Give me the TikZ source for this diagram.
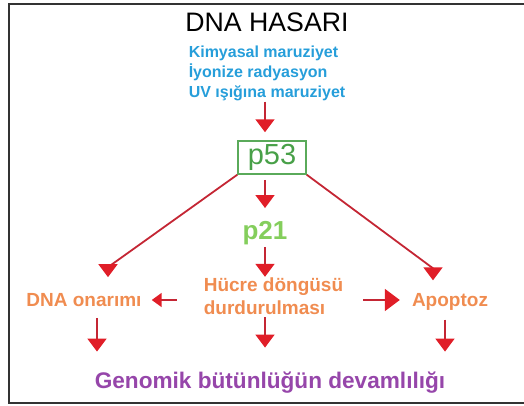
\documentclass[tikz,border=0pt]{standalone}
\usepackage{fontspec}
\setmainfont{Liberation Sans}
\usetikzlibrary{positioning}
\usetikzlibrary{arrows.meta}
\definecolor{okrenk}{RGB}{196,38,52}
\definecolor{ucrenk}{RGB}{224,30,40}
\definecolor{mavi}{RGB}{38,158,218}
\definecolor{yesil}{RGB}{72,160,72}
\definecolor{acikyesil}{RGB}{132,206,92}
\definecolor{turuncu}{RGB}{240,140,80}
\definecolor{mor}{RGB}{150,70,170}
\tikzset{
t/.style={
  inner sep=0pt,
  font=\bfseries\fontsize{19}{23}\selectfont,
  text=turuncu,
  align=left
  },
kutu/.style={
  draw=yesil!90!white,
  line width=1.5pt,
  inner sep=0pt,
  minimum width=68pt,
  minimum height=33pt,
  text=yesil,
  font=\fontsize{29}{33}\selectfont
  },
ok/.style={
  draw=okrenk,
  line width=1.8pt,
  -{Triangle[width=19pt,length=13pt,color=ucrenk]}
  }
}
\begin{document}
\begin{tikzpicture}[x=1pt,y=-1pt]
            \useasboundingbox (0,0) rectangle (524,405);
            \draw[line width=2pt,black!80] (9,4) rectangle (540,403);
            \node[inner sep=0pt,font=\fontsize{26.7}{30}\selectfont] (hasar) at (267,22.5) {DNA HASARI};
            \node[t,text=mavi,font=\bfseries\fontsize{16}{20}\selectfont] (sebep) [below=14pt of hasar] {Kimyasal maruziyet\\İyonize radyasyon\\UV ışığına maruziyet};
            \node[kutu]        (p53)     at (272,157.5) {p53};
            \node[t,text=acikyesil,font=\bfseries\fontsize{26}{30}\selectfont] (p21) at (265,233) {p21};
            \node[t]           (hucre)   at (273.5,296.5) {Hücre döngüsü\\durdurulması};
            \node[t]           (onarim)  at (84,300) {DNA onarımı};
            \node[t]           (apoptoz) at (450,302) {Apoptoz};
            \node[t,text=mor,font=\bfseries\fontsize{22.6}{26}\selectfont] (genomik) at (270,382.5) {Genomik bütünlüğün devamlılığı};
            \path
            (sebep.south -| p21) edge [ok,shorten >=8pt] (p21 |- p53.north)
            (p21 |- p53.south) edge [ok,shorten <=5pt,shorten >=13pt] (p21.north)
            (p21.south) edge [ok,shorten <=2pt,shorten >=1pt] (p21 |- hucre.north)
            ;
            \draw[ok,-{Triangle[width=14pt,length=10pt,color=ucrenk]},shorten <=27pt,shorten >=10pt] (hucre.west |- onarim) -- (onarim.east);
            \draw[ok,-{Triangle[width=22pt,length=15pt,color=ucrenk]},shorten <=20pt,shorten >=12pt] (hucre.east |- onarim) -- (apoptoz.west |- onarim);
            \draw[ok,shorten >=16pt] (p53.south west) -- ([xshift=24pt,yshift=26pt]onarim.north) -- ([xshift=24pt]onarim.north);
            \draw[ok,shorten >=13pt] (p53.south east) -- ([xshift=-17pt,yshift=25pt]apoptoz.north) -- ([xshift=-17pt]apoptoz.north);
            \draw[ok,shorten <=11pt,shorten >=20pt] ([xshift=13pt]onarim.south) -- ([xshift=13pt]onarim.south |- genomik.north);
            \draw[ok,shorten <=2pt,shorten >=24pt] (hucre.south -| p21) -- (p21 |- genomik.north);
            \draw[ok,shorten <=9pt,shorten >=20pt] ([xshift=-5pt]apoptoz.south) -- ([xshift=-5pt]apoptoz.south |- genomik.north);
        \end{tikzpicture}
\end{document}
